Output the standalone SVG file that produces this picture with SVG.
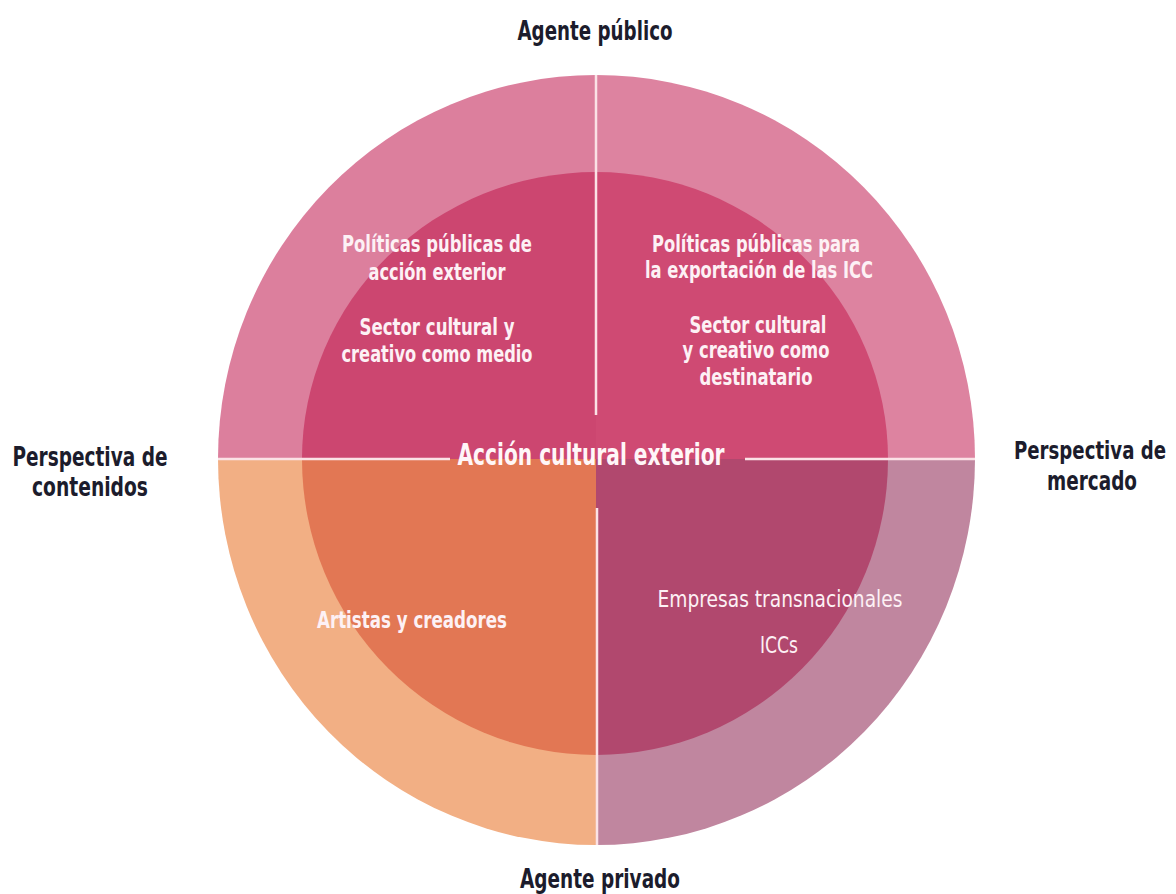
<svg xmlns="http://www.w3.org/2000/svg" width="1176" height="894" viewBox="0 0 1176 894">
<style>
.lbl{font-family:"DejaVu Sans Condensed","DejaVu Sans",sans-serif;font-stretch:condensed;font-weight:bold;fill:#1c1c2c;font-size:26px;text-anchor:middle}
.in{font-family:"DejaVu Sans Condensed","DejaVu Sans",sans-serif;font-stretch:condensed;font-weight:bold;fill:#fdf1f5;font-size:23px;text-anchor:middle}
.inr{font-family:"DejaVu Sans Condensed","DejaVu Sans",sans-serif;font-stretch:condensed;font-weight:normal;fill:#fdf1f5;font-size:23px;text-anchor:middle}
.ctr{font-family:"DejaVu Sans Condensed","DejaVu Sans",sans-serif;font-stretch:condensed;font-weight:bold;fill:#fff6f8;font-size:30px;text-anchor:middle}
.div{stroke:#fbe2e6;stroke-width:2.5;fill:none}
</style>
<rect width="1176" height="894" fill="#ffffff"/>
<g id="q-top-left">
<path d="M596,459 L218,459 A378,384 0 0 1 596,75 Z" fill="#dc7f9d"/>
<path d="M596,459 L302,459 A294,287 0 0 1 596,172 Z" fill="#cc4670"/>
<text class="in" x="437" y="252" textLength="190" lengthAdjust="spacingAndGlyphs">Políticas públicas de</text>
<text class="in" x="437" y="280" textLength="137" lengthAdjust="spacingAndGlyphs">acción exterior</text>
<text class="in" x="437" y="335" textLength="155" lengthAdjust="spacingAndGlyphs">Sector cultural y</text>
<text class="in" x="437" y="362" textLength="191" lengthAdjust="spacingAndGlyphs">creativo como medio</text>
</g>
<g id="q-top-right">
<path d="M596,459 L596,75 A379,384 0 0 1 975,459 Z" fill="#dd83a0"/>
<path d="M596,459 L596,172 A292,287 0 0 1 888,459 Z" fill="#cf4a73"/>
<text class="in" x="756" y="252" textLength="208" lengthAdjust="spacingAndGlyphs">Políticas públicas para</text>
<text class="in" x="759" y="278" textLength="228" lengthAdjust="spacingAndGlyphs">la exportación de las ICC</text>
<text class="in" x="758" y="333" textLength="137" lengthAdjust="spacingAndGlyphs">Sector cultural</text>
<text class="in" x="756" y="358" textLength="147" lengthAdjust="spacingAndGlyphs">y creativo como</text>
<text class="in" x="756" y="385" textLength="113" lengthAdjust="spacingAndGlyphs">destinatario</text>
</g>
<g id="q-bottom-left">
<path d="M596,459 L596,845 A378,386 0 0 1 218,459 Z" fill="#f2af84"/>
<path d="M596,459 L596,755 A294,296 0 0 1 302,459 Z" fill="#e27754"/>
<text class="in" x="412" y="628" textLength="190" lengthAdjust="spacingAndGlyphs">Artistas y creadores</text>
</g>
<g id="q-bottom-right">
<path d="M596,459 L975,459 A379,386 0 0 1 596,845 Z" fill="#c0869f"/>
<path d="M596,459 L888,459 A292,296 0 0 1 596,755 Z" fill="#b1486e"/>
<text class="inr" x="780" y="607" textLength="245" lengthAdjust="spacingAndGlyphs">Empresas transnacionales</text>
<text class="inr" x="779" y="653" textLength="38" lengthAdjust="spacingAndGlyphs">ICCs</text>
</g>
<g id="connectors">
<line class="div" x1="596" y1="75" x2="596" y2="415"/>
<line class="div" x1="597" y1="508" x2="597" y2="845"/>
<line class="div" x1="218" y1="459" x2="450" y2="459"/>
<line class="div" x1="745" y1="459" x2="975" y2="459"/>
</g>
<g id="center">
<text class="ctr" x="591" y="465" textLength="267" lengthAdjust="spacingAndGlyphs">Acción cultural exterior</text>
</g>
<g id="label-top">
<text class="lbl" x="595" y="40" textLength="155" lengthAdjust="spacingAndGlyphs">Agente público</text>
</g>
<g id="label-bottom">
<text class="lbl" x="600" y="888" textLength="160" lengthAdjust="spacingAndGlyphs">Agente privado</text>
</g>
<g id="label-left">
<text class="lbl" x="90" y="466" textLength="155" lengthAdjust="spacingAndGlyphs">Perspectiva de</text>
<text class="lbl" x="90" y="496" textLength="116" lengthAdjust="spacingAndGlyphs">contenidos</text>
</g>
<g id="label-right">
<text class="lbl" transform="translate(1090,459) scale(1,1.35)" x="0" y="0" style="font-size:19px" textLength="152" lengthAdjust="spacingAndGlyphs">Perspectiva de</text>
<text class="lbl" x="1092" y="490" textLength="90" lengthAdjust="spacingAndGlyphs">mercado</text>
</g>
</svg>
